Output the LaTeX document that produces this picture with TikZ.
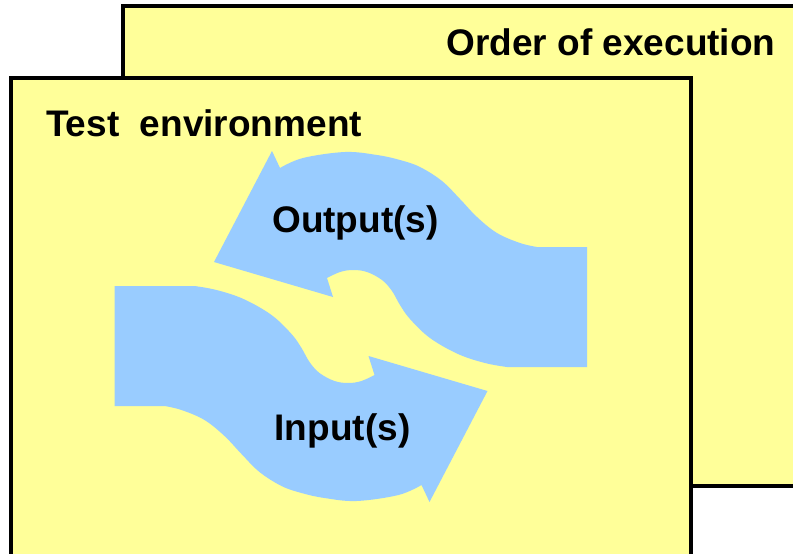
\documentclass[tikz,border=0pt]{standalone}
\usepackage{fontspec}
\setmainfont{Liberation Sans}
\definecolor{panelyellow}{HTML}{FFFF99}
\definecolor{flowblue}{HTML}{99CCFF}
\begin{document}
\begin{tikzpicture}[x=1pt,y=-1pt,
  panel/.style={fill=panelyellow,draw=black,line width=4pt},
  flow/.style={fill=flowblue},
  caption/.style={font=\fontsize{37}{44}\selectfont\bfseries,inner sep=0pt,anchor=base},
  flowarrow/.pic={
    % curved band: straight tail on the right, S-shaped sweep, head pointing down-left
    \fill[flow] (587,247) -- (537,247)
      -- plot[smooth,tension=0.6] coordinates {(537,247) (520,243) (497,233) (477,217)
           (460,199) (442,181) (420,167) (400,160) (377,155) (345,152) (303,158) (280,168)}
      -- (272,151) -- (214,262) -- (333,297) -- (327,278)
      -- plot[smooth,tension=0.6] coordinates {(327,278) (340,272) (353,270) (367,272)
           (382,280) (392,291) (400,305) (410,319) (430,338) (458,354) (485,363) (507,367)}
      -- (587,367) -- cycle;
  }]
\useasboundingbox (0,0) rectangle (793,554);
\clip (0,0) rectangle (793,554);

% back panel
\draw[panel] (123,6) rectangle (812,486);
\node[caption] (order) at (611,55) {Order of execution};

% front panel
\draw[panel] (11,78) rectangle (691,572);
\node[caption] (testenv) at (204,136) {Test\ \ environment};

% the two arrows, one the half-turn of the other
\pic (outputs) at (0,0) {flowarrow};
\pic[rotate=180] (inputs) at (701.5,653) {flowarrow};

\node[caption] (outlabel) at (355.5,232) {Output(s)};
\node[caption] (inlabel) at (342.5,440) {Input(s)};
\end{tikzpicture}
\end{document}
